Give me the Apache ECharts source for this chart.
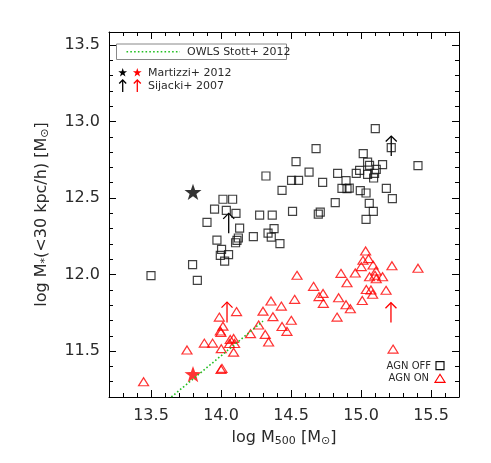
<!DOCTYPE html>
<html>
<head>
<meta charset="utf-8">
<script src="https://cdn.jsdelivr.net/npm/echarts@6/dist/echarts.min.js"></script>
<style>html,body{margin:0;padding:0;background:#fff}#c{width:491px;height:463px}</style>
</head>
<body>
<div id="c"></div>
<script>
// ---- data ----
const xMajorTicks = [13.5, 14.0, 14.5, 15.0, 15.5];
const xMinorTicks = [13.3, 13.4, 13.6, 13.7, 13.8, 13.9, 14.1, 14.2, 14.3, 14.4, 14.6, 14.7, 14.8, 14.9, 15.1, 15.2, 15.3, 15.4, 15.6];
const yMajorTicks = [11.5, 12.0, 12.5, 13.0, 13.5];
const yMinorTicks = [11.3, 11.4, 11.6, 11.7, 11.8, 11.9, 12.1, 12.2, 12.3, 12.4, 12.6, 12.7, 12.8, 12.9, 13.1, 13.2, 13.3, 13.4];

const agnOff = [
  [14.321,12.644],[14.436,12.550],[14.014,12.492],[14.083,12.492],[13.954,12.427],[14.038,12.420],
  [14.107,12.400],[13.900,12.341],[14.276,12.389],[14.366,12.389],[14.133,12.304],[14.379,12.300],
  [14.336,12.271],[14.359,12.245],[14.231,12.248],[14.124,12.239],[14.104,12.208],[14.114,12.224],
  [14.421,12.202],[13.971,12.225],[14.004,12.165],[13.995,12.125],[14.054,12.130],[14.026,12.088],
  [13.797,12.065],[13.500,11.993],[13.831,11.962],[15.102,12.954],[15.216,12.829],[14.679,12.823],
  [15.016,12.790],[14.536,12.738],[15.047,12.735],[15.061,12.714],[15.154,12.718],[15.407,12.712],
  [14.629,12.670],[14.833,12.661],[14.990,12.681],[14.966,12.661],[15.109,12.688],[15.047,12.655],
  [15.097,12.661],[15.090,12.631],[14.504,12.616],[14.554,12.616],[14.726,12.603],[14.893,12.614],
  [14.864,12.563],[14.916,12.565],[14.900,12.561],[14.995,12.548],[15.036,12.533],[15.181,12.563],
  [15.224,12.496],[14.816,12.470],[15.059,12.465],[15.088,12.413],[15.036,12.361],[14.511,12.413],
  [14.709,12.408],[14.695,12.395]
];
const agnOn = [
  [14.357,11.827],[14.431,11.794],[14.111,11.758],[14.300,11.761],[14.371,11.725],[13.988,11.722],
  [14.269,11.670],[14.436,11.661],[14.471,11.629],[14.014,11.663],[13.995,11.631],[13.999,11.622],
  [14.211,11.614],[14.316,11.609],[14.066,11.576],[14.090,11.583],[14.340,11.559],[13.881,11.552],
  [13.940,11.552],[14.061,11.550],[14.097,11.550],[14.002,11.516],[14.090,11.493],[13.757,11.507],
  [14.007,11.387],[14.000,11.380],[13.447,11.300],[15.033,12.154],[15.054,12.104],[15.014,12.093],
  [15.086,12.062],[15.002,12.052],[15.221,12.058],[15.407,12.041],[15.107,12.023],[14.857,12.008],
  [14.959,12.010],[14.543,11.995],[15.061,11.986],[15.100,11.995],[15.154,11.986],[15.109,11.973],
  [14.900,11.947],[14.661,11.923],[15.038,11.903],[15.071,11.899],[15.083,11.871],[15.179,11.897],
  [14.729,11.877],[14.700,11.856],[14.526,11.838],[14.840,11.849],[14.731,11.812],[15.009,11.831],
  [14.893,11.803],[14.924,11.777],[14.829,11.722],[14.502,11.701],[15.229,11.513]
];
const martizziOff = [[13.80, 12.54]];
const martizziOn = [[13.80, 11.35]];
// [x, yStart, yEnd]
const sijackiOff = [[14.055, 12.27, 12.40], [15.216, 12.775, 12.905]];
const sijackiOn = [[14.043, 11.686, 11.820], [15.214, 11.686, 11.816]];
const owlsStott = [[13.645, 11.20], [14.30, 11.696]];

// ---- helpers ----
const FONT = 'DejaVu Sans';
const TXT = '#2a2a2a';
function starPts(cx, cy, R) {
  const pts = [], r = R * 0.4;
  for (let i = 0; i < 10; i++) {
    const a = -Math.PI / 2 + i * Math.PI / 5, rr = i % 2 ? r : R;
    pts.push([cx + rr * Math.cos(a), cy + rr * Math.sin(a)]);
  }
  return pts;
}
const starPath = 'path://' + starPts(50, 50, 50).map((p, i) => (i ? 'L' : 'M') + p[0].toFixed(2) + ' ' + p[1].toFixed(2)).join(' ') + 'Z';

function arrowItem(color) {
  return function (params, api) {
    const p0 = api.coord([api.value(0), api.value(1)]);
    const p1 = api.coord([api.value(0), api.value(2)]);
    return {
      type: 'group', children: [
        { type: 'line', shape: { x1: p0[0], y1: p0[1], x2: p1[0], y2: p1[1] }, style: { stroke: color, lineWidth: 1.3 } },
        { type: 'polyline', shape: { points: [[p1[0] - 5.5, p1[1] + 5.5], [p1[0], p1[1]], [p1[0] + 5.5, p1[1] + 5.5]] }, style: { stroke: color, fill: null, lineWidth: 1.3 } }
      ]
    };
  };
}

const X0 = 13.2, X1 = 15.7, Y0 = 11.2, Y1 = 13.585;
const gridBox = { left: 109, right: 32, top: 32, bottom: 66 };
const lineStyle = { color: '#000', width: 1 };
const subRich = {
  sub: { fontSize: 11, fontFamily: FONT, color: TXT, verticalAlign: 'bottom', padding: [8, 0, 0, 0] }
};

function xAx(grid, pos, major, labels) {
  return {
    type: 'value', gridIndex: grid, position: pos, min: X0, max: X1,
    axisLine: { show: major, onZero: false, lineStyle },
    axisTick: { show: true, inside: true, length: major ? 7 : 4, customValues: major ? xMajorTicks : xMinorTicks, lineStyle },
    axisLabel: labels ? { show: true, customValues: xMajorTicks, formatter: v => v.toFixed(1), margin: 11, fontFamily: FONT, fontSize: 16, color: TXT } : { show: false },
    splitLine: { show: false }
  };
}
function yAx(grid, pos, major, labels) {
  return {
    type: 'value', gridIndex: grid, position: pos, min: Y0, max: Y1,
    axisLine: { show: major, onZero: false, lineStyle },
    axisTick: { show: true, inside: true, length: major ? 7 : 4, customValues: major ? yMajorTicks : yMinorTicks, lineStyle },
    axisLabel: labels ? { show: true, customValues: yMajorTicks, formatter: v => v.toFixed(1), margin: 9, fontFamily: FONT, fontSize: 16, color: TXT } : { show: false },
    splitLine: { show: false }
  };
}

const xBottom = xAx(0, 'bottom', true, true);
xBottom.name = 'log M{sub|500} [M{sub|⊙}]';
xBottom.nameLocation = 'middle';
xBottom.nameGap = 31;
xBottom.nameTextStyle = { fontFamily: FONT, fontSize: 16, color: TXT, rich: subRich };

const yLeft = yAx(0, 'left', true, true);
yLeft.name = 'log M{sub|*}(<30 kpc/h) [M{sub|⊙}]';
yLeft.nameLocation = 'middle';
yLeft.nameRotate = 90;
yLeft.nameGap = 58;
yLeft.nameTextStyle = { fontFamily: FONT, fontSize: 16, color: TXT, rich: subRich };

const chart = echarts.init(document.getElementById('c'), null, { renderer: 'canvas' });
chart.setOption({
  backgroundColor: '#fff',
  animation: false,
  grid: [Object.assign({}, gridBox), Object.assign({}, gridBox)],
  xAxis: [xBottom, xAx(0, 'top', true, false), xAx(1, 'bottom', false, false), xAx(1, 'top', false, false)],
  yAxis: [yLeft, yAx(0, 'right', true, false), yAx(1, 'left', false, false), yAx(1, 'right', false, false)],
  series: [
    { name: 'AGN OFF', type: 'scatter', xAxisIndex: 0, yAxisIndex: 0, data: agnOff, symbol: 'rect', symbolSize: 8,
      itemStyle: { color: 'rgba(0,0,0,0)', borderColor: '#111', borderWidth: 1.2 } },
    { name: 'AGN ON', type: 'scatter', xAxisIndex: 0, yAxisIndex: 0, data: agnOn, symbol: 'triangle', symbolSize: [10, 8],
      itemStyle: { color: 'rgba(0,0,0,0)', borderColor: '#ff0000', borderWidth: 1.2 } },
    { name: 'OWLS Stott+ 2012', type: 'line', xAxisIndex: 0, yAxisIndex: 0, data: owlsStott, symbol: 'none',
      lineStyle: { color: '#22c022', width: 1.6, type: [1.6, 2.2] } },
    { name: 'Martizzi off', type: 'scatter', xAxisIndex: 0, yAxisIndex: 0, data: martizziOff, symbol: starPath, symbolSize: 17, symbolKeepAspect: true,
      itemStyle: { color: '#000' } },
    { name: 'Martizzi on', type: 'scatter', xAxisIndex: 0, yAxisIndex: 0, data: martizziOn, symbol: starPath, symbolSize: 17, symbolKeepAspect: true,
      itemStyle: { color: '#ff0000' } },
    { name: 'Sijacki off', type: 'custom', xAxisIndex: 0, yAxisIndex: 0, data: sijackiOff, renderItem: arrowItem('#000'), encode: { x: 0, y: [1, 2] } },
    { name: 'Sijacki on', type: 'custom', xAxisIndex: 0, yAxisIndex: 0, data: sijackiOn, renderItem: arrowItem('#ff0000'), encode: { x: 0, y: [1, 2] } }
  ],
  graphic: [
    { type: 'rect', shape: { x: 116.5, y: 44, width: 170, height: 15.5 }, style: { fill: '#fff', stroke: '#888', lineWidth: 1 }, z: 10 },
    { type: 'line', shape: { x1: 126.5, y1: 51.7, x2: 180, y2: 51.7 }, style: { stroke: '#22c022', lineWidth: 1.6, lineDash: [1.6, 2.2] }, z: 11 },
    { type: 'text', x: 187, y: 51.7, style: { text: 'OWLS Stott+ 2012', fontFamily: FONT, fontSize: 11, fill: TXT, verticalAlign: 'middle' }, z: 11 },
    { type: 'polygon', shape: { points: starPts(122.7, 72.7, 4.6) }, style: { fill: '#000' }, z: 11 },
    { type: 'polygon', shape: { points: starPts(137.3, 72.7, 4.6) }, style: { fill: '#ff0000' }, z: 11 },
    { type: 'text', x: 148, y: 73, style: { text: 'Martizzi+ 2012', fontFamily: FONT, fontSize: 11, fill: TXT, verticalAlign: 'middle' }, z: 11 },
    { type: 'line', shape: { x1: 122.7, y1: 92, x2: 122.7, y2: 80 }, style: { stroke: '#000', lineWidth: 1.3 }, z: 11 },
    { type: 'polyline', shape: { points: [[119.2, 83.5], [122.7, 80], [126.2, 83.5]] }, style: { stroke: '#000', fill: null, lineWidth: 1.3 }, z: 11 },
    { type: 'line', shape: { x1: 137.3, y1: 92, x2: 137.3, y2: 80 }, style: { stroke: '#ff0000', lineWidth: 1.3 }, z: 11 },
    { type: 'polyline', shape: { points: [[133.8, 83.5], [137.3, 80], [140.8, 83.5]] }, style: { stroke: '#ff0000', fill: null, lineWidth: 1.3 }, z: 11 },
    { type: 'text', x: 148, y: 86.5, style: { text: 'Sijacki+ 2007', fontFamily: FONT, fontSize: 11, fill: TXT, verticalAlign: 'middle' }, z: 11 },
    { type: 'text', x: 431, y: 366, style: { text: 'AGN OFF', fontFamily: FONT, fontSize: 10, fill: TXT, align: 'right', verticalAlign: 'middle' }, z: 11 },
    { type: 'rect', shape: { x: 436, y: 361.7, width: 8, height: 8 }, style: { fill: null, stroke: '#111', lineWidth: 1.2 }, z: 11 },
    { type: 'text', x: 429, y: 378.5, style: { text: 'AGN ON', fontFamily: FONT, fontSize: 10, fill: TXT, align: 'right', verticalAlign: 'middle' }, z: 11 },
    { type: 'polygon', shape: { points: [[435, 382.3], [445, 382.3], [440, 374.3]] }, style: { fill: null, stroke: '#ff0000', lineWidth: 1.2 }, z: 11 }
  ]
});
</script>
</body>
</html>
